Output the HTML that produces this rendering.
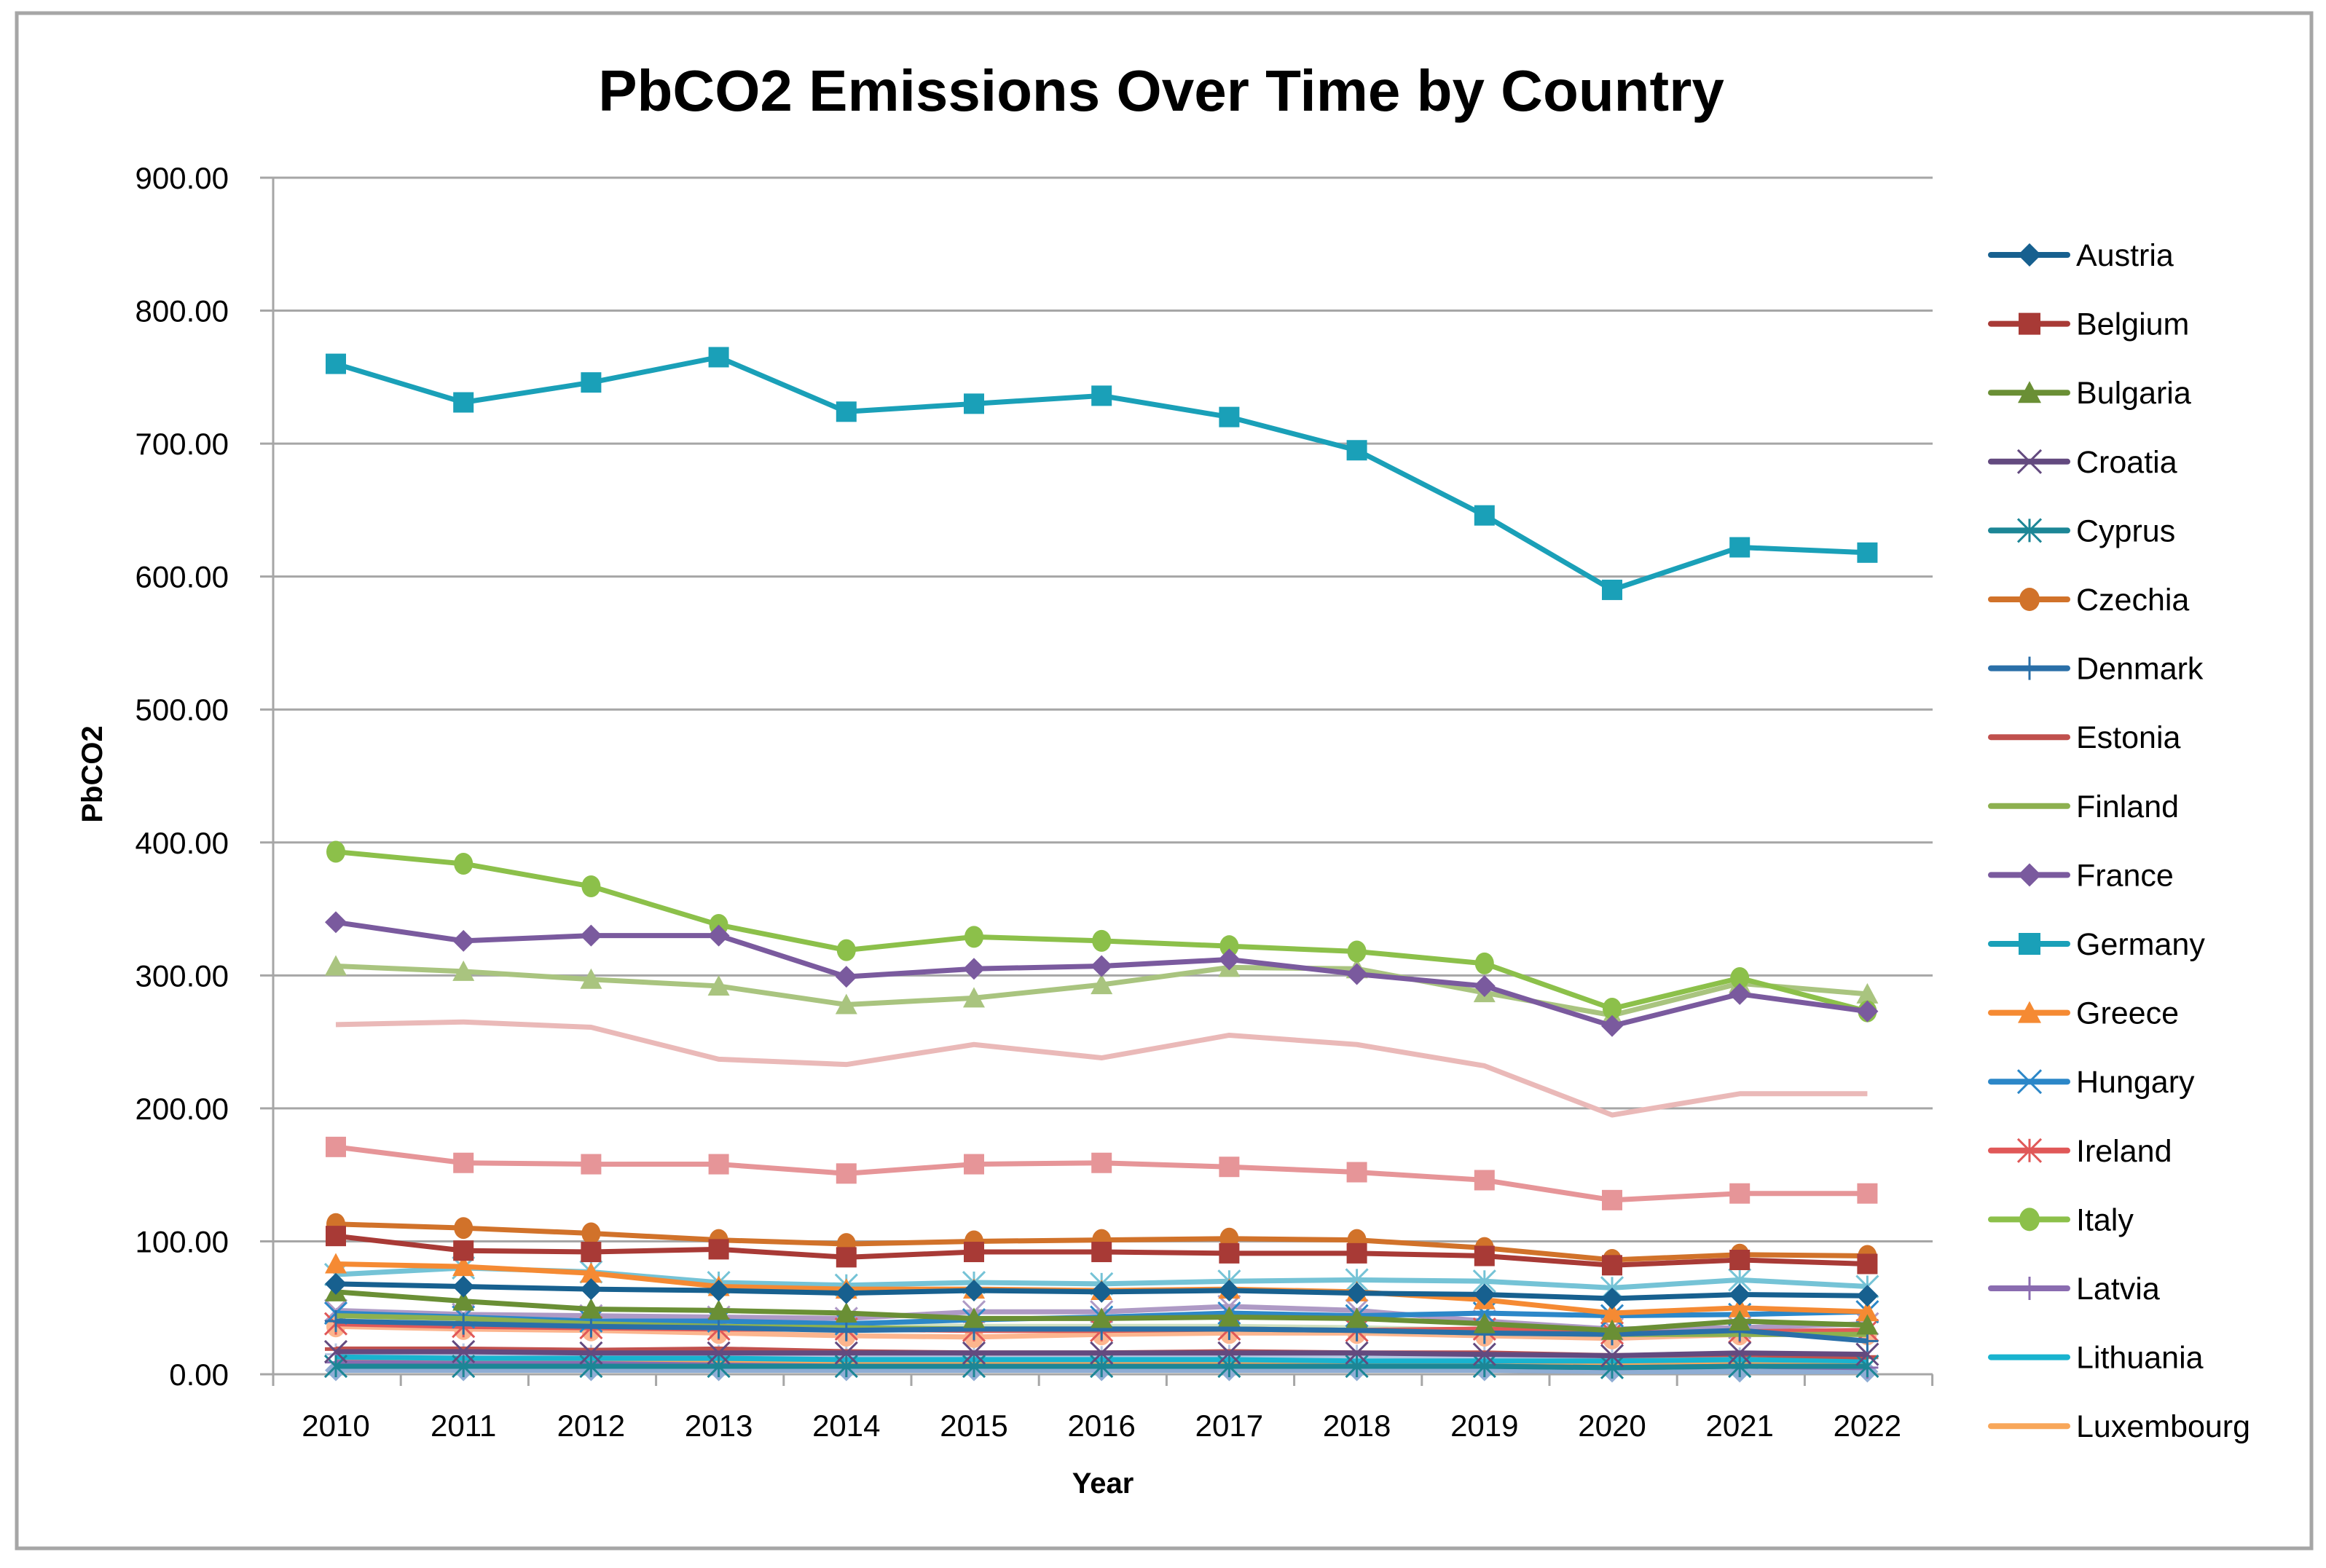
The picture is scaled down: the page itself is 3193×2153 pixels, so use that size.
<!DOCTYPE html>
<html><head><meta charset="utf-8"><style>
html,body{margin:0;padding:0;background:#fff}
svg{display:block;font-family:"Liberation Sans",sans-serif}
</style></head><body>
<svg id="chart" width="3193" height="2153" viewBox="0 0 3193 2153" xmlns="http://www.w3.org/2000/svg">
<rect x="23" y="18" width="3150" height="2108" fill="#fff" stroke="#a6a6a6" stroke-width="5"/>
<text x="1594" y="152" text-anchor="middle" font-size="80" font-weight="bold">PbCO2 Emissions Over Time by Country</text>
<text transform="translate(140,1063) rotate(-90)" text-anchor="middle" font-size="40" font-weight="bold">PbCO2</text>
<text x="1514" y="2050" text-anchor="middle" font-size="40" font-weight="bold">Year</text>
<g id="grid"></g><g id="series"></g><g id="legend"></g>
</svg>
<script>
const years=[2010,2011,2012,2013,2014,2015,2016,2017,2018,2019,2020,2021,2022];
const yTicks=[0,100,200,300,400,500,600,700,800,900];
const seriesNames=["Austria","Belgium","Bulgaria","Croatia","Cyprus","Czechia","Denmark","Estonia","Finland","France","Germany","Greece","Hungary","Ireland","Italy","Latvia","Lithuania","Luxembourg","Malta","Netherlands","Poland","Portugal","Romania","Slovakia","Slovenia","Spain","Sweden"];
const austria=[68,66,64,63,61,63,62,63,61,60,57,60,59];
const belgium=[104,93,92,94,88,92,92,91,91,89,82,86,83];
const bulgaria=[62,55,49,48,46,42,42,43,42,38,33,40,37];
const croatia=[17,17,16,16,16,16,16,16,16,15,14,16,15];
const cyprus=[6,6,6,6,6,6,6,6,6,6,5,6,6];
const czechia=[113,110,106,101,98,100,101,102,101,95,86,90,89];
const denmark=[40,38,36,35,33,34,34,34,33,31,30,33,25];
const estonia=[19,19,18,19,17,16,16,17,16,16,14,15,13];
const finland=[44,42,38,36,35,34,34,34,33,31,30,30,30];
const france=[340,326,330,330,299,305,307,312,301,292,262,286,273];
const germany=[760,731,746,765,724,730,736,720,695,646,590,622,618];
const greece=[83,81,76,66,64,64,63,64,62,56,46,50,47];
const hungary=[46,43,40,40,38,41,43,46,44,46,44,45,47];
const ireland=[38,36,35,34,34,33,33,34,33,34,31,32,33];
const italy=[393,384,367,338,319,329,326,322,318,309,275,298,273];
const latvia=[9,8,8,7,6,6,6,6,6,6,5,6,5];
const lithuania=[13,12,12,12,11,11,11,11,10,10,10,11,10];
const luxembourg=[11,11,10,10,8,8,8,8,8,8,7,8,8];
const malta=[3,3,3,3,3,3,3,3,3,3,2,2,2];
const netherlands=[171,159,158,158,151,158,159,156,152,146,131,136,136];
const poland=[307,303,297,292,278,283,293,306,305,287,270,294,286];
const portugal=[48,45,44,43,42,47,47,51,48,40,34,35,38];
const romania=[75,80,77,69,67,69,68,70,71,70,65,71,66];
const slovakia=[36,34,33,31,29,28,30,31,31,29,27,30,30];
const slovenia=[15,15,14,14,13,13,13,14,14,13,12,12,12];
const spain=[263,265,261,237,233,248,238,255,248,232,195,211,211];
const sweden=[45,42,40,38,37,36,36,36,35,33,31,31,30];
const allValues=[austria,belgium,bulgaria,croatia,cyprus,czechia,denmark,estonia,finland,france,germany,greece,hungary,ireland,italy,latvia,lithuania,luxembourg,malta,netherlands,poland,portugal,romania,slovakia,slovenia,spain,sweden];
const colors=["#17608f","#a83a36","#6a8f35","#634a7f","#1c8696","#d1722a","#2a6fa8","#c0504d","#8db04f","#7a5a9e","#1aa0b8","#f58a33","#2c87c8","#e05858","#8cc04a","#8a6cb0","#19b3cf","#f8a75a","#8fadd4","#e69598","#a9c47f","#ae9ac5","#75c3d6","#fcb58e","#b6c7e2","#eab9b8","#d0e0c0"];
const markers=["diamond","square","triangle","x","star","circle","plus","dash","none","diamond","square","triangle","x","star","circle","plus","none","none","diamond","square","triangle","x","star","circle","plus","none","none"];
const NS="http://www.w3.org/2000/svg";
const X0=461,XS=175.2,Y0=1887,YTOP=244,L=375,R=2653;
function xs(i){return X0+i*XS}
function ys(v){return Y0-(Y0-YTOP)*v/900}
function mk(t,a,p){const e=document.createElementNS(NS,t);for(const k in a)e.setAttribute(k,a[k]);p.appendChild(e);return e}
const grid=document.getElementById('grid');
yTicks.forEach(t=>{
  const g=mk('line',{x1:L-18,x2:R,y1:ys(t),y2:ys(t),stroke:'#a6a6a6','stroke-width':3},grid);
  
  
  const tx=mk('text',{x:314,y:ys(t)+15,'text-anchor':'end','font-size':42},grid);
  
  
  tx.textContent=t.toFixed(2);
});
const ax=mk('line',{x1:L,x2:L,y1:YTOP,y2:Y0+16,stroke:'#a6a6a6','stroke-width':3},grid);


for(let i=0;i<=years.length;i++){
  const tk=mk('line',{x1:L+i*XS,x2:L+i*XS,y1:Y0,y2:Y0+16,stroke:'#a6a6a6','stroke-width':3},grid);
  
  
}
years.forEach((y,i)=>{
  const t=mk('text',{x:xs(i),y:1972,'text-anchor':'middle','font-size':42},grid);
  
  
  t.textContent=y;
});
function marker(type,x,y,c,p,s){
  s=s||15;let e;
  if(type==='diamond')e=mk('polygon',{points:`${x},${y-s} ${x+s},${y} ${x},${y+s} ${x-s},${y}`,fill:c},p);
  else if(type==='square')e=mk('rect',{x:x-s+1,y:y-s+1,width:2*s-2,height:2*s-2,fill:c},p);
  else if(type==='triangle')e=mk('polygon',{points:`${x},${y-s} ${x+s},${y+s-2} ${x-s},${y+s-2}`,fill:c},p);
  else if(type==='circle')e=mk('ellipse',{cx:x,cy:y,rx:s-2,ry:s,fill:c},p);
  else if(type==='x')e=mk('path',{d:`M${x-s} ${y-s}L${x+s} ${y+s}M${x-s} ${y+s}L${x+s} ${y-s}`,stroke:c,'stroke-width':3},p);
  else if(type==='star')e=mk('path',{d:`M${x-s} ${y-s}L${x+s} ${y+s}M${x-s} ${y+s}L${x+s} ${y-s}M${x} ${y-s}L${x} ${y+s}`,stroke:c,'stroke-width':3},p);
  else if(type==='plus')e=mk('path',{d:`M${x-s} ${y}L${x+s} ${y}M${x} ${y-s}L${x} ${y+s}`,stroke:c,'stroke-width':3},p);
  else if(type==='dash')e=mk('path',{d:`M${x-s} ${y}L${x+s} ${y}`,stroke:c,'stroke-width':5},p);
  return e;
}
const sg=document.getElementById('series');
for(let k=allValues.length-1;k>=0;k--){
  const g=mk('g',{},sg);
  
  
  const vals=allValues[k];
  const pl=mk('polyline',{points:vals.map((v,i)=>xs(i)+','+ys(v)).join(' '),fill:'none',stroke:colors[k],'stroke-width':7,'stroke-linejoin':'round'},g);
  
  
  vals.forEach((v,i)=>{const m=marker(markers[k],xs(i),ys(v),colors[k],g);if(m){
    
    
  }});
}
const lg=document.getElementById('legend');
for(let k=0;k<18;k++){
  const y=350+k*94.6;
  const g=mk('g',{},lg);
  
  
  mk('line',{x1:2733,x2:2838,y1:y,y2:y,stroke:colors[k],'stroke-width':8,'stroke-linecap':'round'},g);
  marker(markers[k],2786,y,colors[k],g,16);
  const t=mk('text',{x:2850,y:y+15,'font-size':43},g);
  t.textContent=seriesNames[k];
}
</script>
</body></html>
